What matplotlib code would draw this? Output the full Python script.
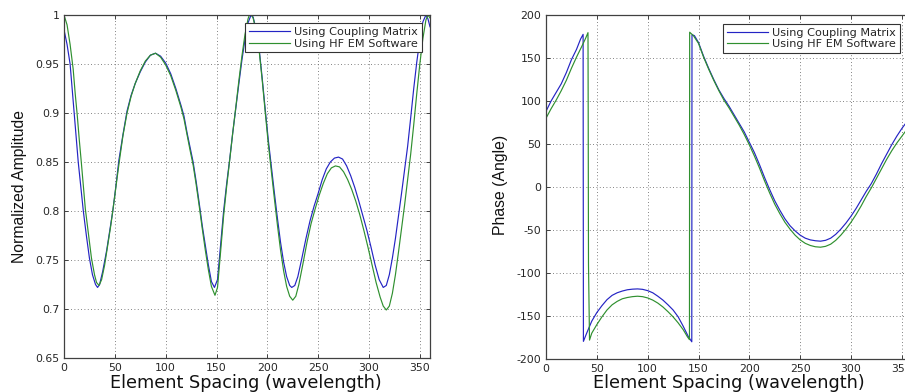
import matplotlib
matplotlib.use("Agg")
import matplotlib.pyplot as plt
from matplotlib.ticker import FixedLocator, FixedFormatter

# ---- Normalized amplitude vs element spacing ----
amp_cm_x = [0, 3, 6, 8, 10, 12, 14, 16.5, 19, 22, 25, 28, 31, 33, 35, 38, 42, 45, 48, 51,
            54, 58, 62, 66, 70, 75, 80, 85, 90, 95, 100, 105, 110, 115, 118, 121, 124, 127,
            130, 133, 136, 139, 142, 145, 148, 151, 154, 157, 160, 163, 166, 169, 172, 175,
            178, 181, 184, 186, 189, 192, 195, 198, 201, 204, 207, 210, 213, 216, 219, 222,
            224, 227, 230, 234, 238, 242, 246, 250, 254, 258, 262, 266, 270, 274, 278, 282,
            286, 290, 294, 298, 302, 306, 310, 314, 317, 320, 323, 326, 329, 332, 335, 338,
            341, 344, 347, 350, 353, 356, 358, 360]
amp_cm_y = [0.985, 0.970, 0.950, 0.925, 0.900, 0.875, 0.850, 0.825, 0.800, 0.775, 0.752,
            0.735, 0.725, 0.722, 0.725, 0.738, 0.760, 0.780, 0.800, 0.825, 0.852, 0.878,
            0.902, 0.918, 0.930, 0.942, 0.952, 0.959, 0.961, 0.958, 0.951, 0.940, 0.925,
            0.908, 0.897, 0.880, 0.865, 0.850, 0.830, 0.808, 0.785, 0.765, 0.745, 0.728,
            0.722, 0.730, 0.765, 0.800, 0.828, 0.853, 0.880, 0.905, 0.930, 0.954, 0.975,
            0.992, 1.000, 0.998, 0.985, 0.965, 0.935, 0.903, 0.872, 0.845, 0.818, 0.792,
            0.768, 0.748, 0.733, 0.724, 0.722, 0.724, 0.733, 0.752, 0.772, 0.790, 0.805,
            0.818, 0.832, 0.843, 0.850, 0.854, 0.855, 0.853, 0.846, 0.836, 0.824, 0.810,
            0.795, 0.780, 0.763, 0.745, 0.730, 0.722, 0.724, 0.735, 0.752, 0.772, 0.795,
            0.818, 0.842, 0.866, 0.895, 0.925, 0.952, 0.975, 0.993, 1.000, 0.996, 0.988]

amp_em_x = [0, 3, 6, 9, 11, 13, 15, 17, 19, 21, 24, 27, 30, 32, 34.5, 37, 40, 43, 46, 49,
            52, 55, 58, 62, 66, 70, 75, 80, 85, 90, 95, 100, 105, 110, 115, 118, 121, 124,
            127, 130, 133, 136, 139, 142, 145, 148.5, 151, 154, 157, 160, 163, 166, 169,
            172, 175, 178, 181, 183, 186, 189, 192, 195, 198, 201, 204, 207, 210, 213, 216,
            219, 222, 225, 228, 231, 235, 239, 243, 247, 251, 255, 259, 263, 267, 271, 275,
            279, 283, 287, 291, 295, 299, 303, 307, 311, 314, 317, 320, 323, 326, 329, 332,
            335, 338, 341, 344, 347, 350, 353, 356, 358, 360]
amp_em_y = [1.000, 0.990, 0.970, 0.945, 0.920, 0.898, 0.873, 0.850, 0.826, 0.802, 0.777,
            0.752, 0.735, 0.727, 0.724, 0.730, 0.745, 0.765, 0.785, 0.808, 0.832, 0.855,
            0.877, 0.900, 0.917, 0.930, 0.943, 0.953, 0.959, 0.961, 0.957, 0.949, 0.938,
            0.923, 0.906, 0.894, 0.878, 0.862, 0.847, 0.827, 0.805, 0.782, 0.760, 0.740,
            0.723, 0.714, 0.722, 0.758, 0.795, 0.825, 0.852, 0.880, 0.906, 0.933, 0.958,
            0.980, 0.996, 1.002, 0.997, 0.984, 0.963, 0.933, 0.900, 0.868, 0.840, 0.812,
            0.785, 0.760, 0.739, 0.723, 0.713, 0.709, 0.713, 0.725, 0.746, 0.768, 0.787,
            0.802, 0.816, 0.828, 0.838, 0.844, 0.846, 0.845, 0.840, 0.832, 0.822, 0.810,
            0.796, 0.780, 0.763, 0.745, 0.727, 0.712, 0.703, 0.699, 0.703, 0.716, 0.735,
            0.758, 0.782, 0.806, 0.832, 0.858, 0.888, 0.920, 0.950, 0.976, 0.995, 1.000,
            0.997]

# ---- Phase vs element spacing ----
ph_cm_x = [0, 5, 10, 15, 20, 25, 30, 34, 36.5, 36.8, 40, 45, 50, 55, 60, 65, 70, 75, 80,
           85, 90, 95, 100, 105, 110, 115, 120, 125, 130, 135, 140, 143.4, 143.6, 146, 150,
           155, 160, 165, 170, 175, 180, 185, 190, 195, 200, 205, 210, 215, 220, 225, 230,
           235, 240, 245, 250, 255, 260, 265, 270, 275, 280, 285, 290, 295, 300, 305, 310,
           315, 320, 325, 330, 335, 340, 345, 350, 355, 360]
ph_cm_y = [88, 100, 110, 120, 133, 148, 160, 172, 177.5, -179.5, -170, -156, -146, -138,
           -131, -126, -123, -121, -119.5, -118.8, -118.5, -119, -120.5, -123, -127, -131.5,
           -137, -143, -151, -162, -174, -180, 177, 176, 168, 152, 138, 125, 113, 103, 94,
           84, 74, 64, 52, 40, 26, 11, -3, -16, -27, -37, -45, -51, -56, -59.5, -61.5,
           -62.5, -63, -62, -59.5, -55, -49, -42, -34, -25, -15, -5, 4, 15, 27, 38, 49, 59,
           68, 76, 84]

ph_em_x = [0, 5, 10, 15, 20, 25, 30, 35, 39, 41.3, 41.5, 41.8, 42.8, 45, 50, 55, 60, 65,
           70, 75, 80, 85, 90, 95, 100, 105, 110, 115, 120, 125, 130, 135, 139, 141.1,
           141.3, 145, 150, 155, 160, 165, 170, 175, 180, 185, 190, 195, 200, 205, 210, 215,
           220, 225, 230, 235, 240, 245, 250, 255, 260, 265, 270, 275, 280, 285, 290, 295,
           300, 305, 310, 315, 320, 325, 330, 335, 340, 345, 350, 355, 360]
ph_em_y = [80, 91, 101, 112, 124, 138, 151, 163, 173, 179.5, 90, -90, -178, -170, -160,
           -151, -143, -137, -133, -130, -128.5, -127.5, -127, -127.5, -129, -131.5, -135,
           -139.5, -145, -151, -158, -166, -174, -177.5, 180, 176, 167, 151, 137, 124, 112,
           101, 92, 82, 72, 61, 49, 36, 22, 7, -7, -20, -31, -41, -49, -56, -61.5, -65.5,
           -68, -69.5, -70, -69, -66.5, -62, -56, -49, -41, -32, -22, -11, -1, 10, 21, 32,
           42, 51, 59, 67, 75]

x_ticks = [0, 50, 100, 150, 200, 250, 300, 350]
amp_ticks = [0.65, 0.7, 0.75, 0.8, 0.85, 0.9, 0.95, 1.0]
amp_tick_labels = ["0.65", "0.7", "0.75", "0.8", "0.85", "0.9", "0.95", "1"]
ph_ticks = [-200, -150, -100, -50, 0, 50, 100, 150, 200]
ph_tick_labels = ["-200", "-150", "-100", "-50", "0", "50", "100", "150", "200"]

series_labels = ["Using Coupling Matrix", "Using HF EM Software"]
blue = "#2424c4"
green = "#2f902f"
frame = "#404040"
text_c = "#262626"

W, H = 905, 392
fig = plt.figure(figsize=(W / 100, H / 100), dpi=100)
fig.patch.set_facecolor("white")


def px_axes(left, top, right, bottom):
    return fig.add_axes([left / W, 1 - bottom / H, (right - left) / W, (bottom - top) / H])


def style(ax, yticks, ylabels):
    ax.set_xlim(0, 360)
    ax.xaxis.set_major_locator(FixedLocator(x_ticks))
    ax.yaxis.set_major_locator(FixedLocator(yticks))
    ax.yaxis.set_major_formatter(FixedFormatter(ylabels))
    ax.tick_params(direction="in", length=3, width=0.7, color=frame,
                   top=True, right=True, labelsize=7.8, labelcolor=text_c, pad=3.4)
    for lab in ax.get_xticklabels() + ax.get_yticklabels():
        lab.set_fontfamily("DejaVu Sans")
    for s in ax.spines.values():
        s.set_color(frame)
        s.set_linewidth(0.9)
    ax.grid(True, color="#5a5a5a", linestyle=(0, (1, 3)), linewidth=0.6)
    ax.set_axisbelow(True)


def add_legend(ax, anchor):
    leg = ax.legend(loc="upper right", bbox_to_anchor=anchor, borderaxespad=0,
                    fancybox=False, framealpha=1, edgecolor="#333333",
                    prop={"family": "DejaVu Sans", "size": 8.1},
                    handlelength=3.7, handletextpad=0.3, borderpad=0.35,
                    labelspacing=0.12)
    leg.get_frame().set_linewidth(0.8)
    for t in leg.get_texts():
        t.set_color(text_c)


# Left: amplitude
ax1 = px_axes(64, 15, 430, 358)
ax1.plot(amp_cm_x, amp_cm_y, color=blue, lw=0.85, label=series_labels[0])
ax1.plot(amp_em_x, amp_em_y, color=green, lw=0.85, label=series_labels[1])
ax1.set_ylim(0.65, 1.0)
style(ax1, amp_ticks, amp_tick_labels)
add_legend(ax1, (0.977, 0.976))

# Right: phase (axes runs past the figure's right edge)
ax2 = px_axes(546, 15, 912, 359)
ax2.plot(ph_cm_x, ph_cm_y, color=blue, lw=0.85, label=series_labels[0])
ax2.plot(ph_em_x, ph_em_y, color=green, lw=0.85, label=series_labels[1])
ax2.set_ylim(-200, 200)
style(ax2, ph_ticks, ph_tick_labels)
add_legend(ax2, (0.966, 0.975))

# Axis titles
fig.text(246 / W, 1 - 388 / H, "Element Spacing (wavelength)", ha="center", va="baseline",
         fontsize=12.7, family="DejaVu Sans", color="#111111")
fig.text(729 / W, 1 - 388 / H, "Element Spacing (wavelength)", ha="center", va="baseline",
         fontsize=12.7, family="DejaVu Sans", color="#111111")
fig.text(19.5 / W, 1 - 186.5 / H, "Normalized Amplitude", ha="center", va="center",
         rotation=90, fontsize=11.3, family="Liberation Sans", color="#111111")
fig.text(500 / W, 1 - 184.5 / H, "Phase (Angle)", ha="center", va="center",
         rotation=90, fontsize=11.3, family="Liberation Sans", color="#111111")

fig.savefig("out.png", dpi=100)
